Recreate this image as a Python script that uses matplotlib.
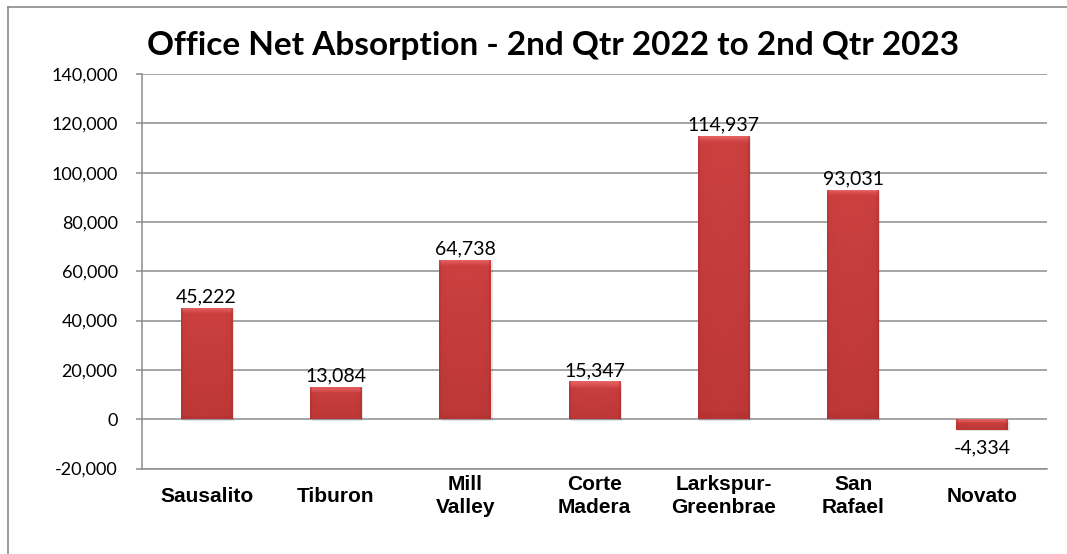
import numpy as np
import matplotlib
matplotlib.use("Agg")
import matplotlib.pyplot as plt
from matplotlib.colors import LinearSegmentedColormap
from matplotlib.ticker import FuncFormatter, MultipleLocator
from matplotlib.lines import Line2D

# ---- data ----
categories = ["Sausalito", "Tiburon", "Mill\nValley", "Corte\nMadera",
              "Larkspur-\nGreenbrae", "San\nRafael", "Novato"]
values = [45222, 13084, 64738, 15347, 114937, 93031, -4334]
title = "Office Net Absorption - 2nd Qtr 2022 to 2nd Qtr 2023"
y_min, y_max, y_step = -20000, 140000, 20000

W, H = 1067, 554
fig = plt.figure(figsize=(W / 100, H / 100), dpi=100)
fig.patch.set_facecolor("white")

# outer chart border (only left/top visible in reference)
fig.add_artist(Line2D([8 / W, 8 / W], [0, 1 - 7 / H], transform=fig.transFigure,
                      color="#8a8a8a", lw=1.2))
fig.add_artist(Line2D([8 / W, 1], [1 - 7 / H, 1 - 7 / H], transform=fig.transFigure,
                      color="#8a8a8a", lw=1.2))

left, right = 142 / W, 1047 / W
top, bottom = 1 - 74 / H, 1 - 468.5 / H
ax = fig.add_axes([left, bottom, right - left, top - bottom])

x = np.arange(len(categories))
bars = ax.bar(x, values, width=0.4, color="#c83a3a", edgecolor="none", zorder=3)

ax.set_xlim(-0.5, len(categories) - 0.5)
ax.set_ylim(y_min, y_max)
ax.yaxis.set_major_locator(MultipleLocator(y_step))
ax.yaxis.set_major_formatter(FuncFormatter(lambda v, p: f"{int(v):,}"))

# gradient fill for bars
cmap = LinearSegmentedColormap.from_list("bar", ["#9a2828", "#b73434", "#d04242", "#e86a6a"])
for b, v in zip(bars, values):
    bx, by, bw, bh = b.get_x(), b.get_y(), b.get_width(), b.get_height()
    y0, y1 = (by, by + bh) if bh >= 0 else (by + bh, by)
    # shadow
    ax.add_patch(plt.Rectangle((bx + 0.012, y0 - 600), bw, y1 - y0,
                               facecolor="#000000", alpha=0.10, edgecolor="none", zorder=2))
    n = 80
    grad_v = np.linspace(0.42, 0.62, n)[:, None]
    horiz = 1 - 0.12 * np.abs(np.linspace(-1, 1, n))[None, :] ** 4
    img = grad_v * horiz * np.ones((n, n))
    # bevel: lighter top edge, darker sides/bottom
    px_h = max(2, int(round(n * 6 / max(abs(bh) / 20000 * 49.3, 1))))
    px_h = min(px_h, n // 3)
    img[-px_h:, :] = np.linspace(0.72, 0.95, px_h)[:, None]
    img[:, :3] *= 0.75
    img[:, -3:] *= 0.75
    img[:2, :] *= 0.8
    im = ax.imshow(img, extent=[bx, bx + bw, y0, y1], origin="lower",
                   cmap=cmap, vmin=0, vmax=1, aspect="auto", zorder=3.5,
                   interpolation="bilinear")
    im.set_clip_path(b)

# data labels
for xi, v in zip(x, values):
    if v >= 0:
        ax.annotate(f"{v:,}", (xi, v), xytext=(0, 1.5), textcoords="offset points",
                    ha="center", va="bottom", fontsize=14, family="Lato",
                    color="#000000", zorder=5)
    else:
        ax.annotate(f"{v:,}", (xi, v), xytext=(0, -7), textcoords="offset points",
                    ha="center", va="top", fontsize=14, family="Lato",
                    color="#000000", zorder=5)

# grid & spines
ax.grid(axis="y", color="#8c8c8c", lw=1.1, zorder=1)
ax.set_axisbelow(True)
for s in ["top", "right"]:
    ax.spines[s].set_visible(False)
ax.spines["left"].set_color("#8c8c8c")
ax.spines["bottom"].set_color("#8c8c8c")
ax.spines["left"].set_linewidth(1.1)
ax.spines["bottom"].set_linewidth(1.1)
ax.tick_params(axis="y", length=4.5, width=1.1, color="#8c8c8c", pad=13,
               labelsize=13)
for lab in ax.get_yticklabels():
    lab.set_family("Lato")
ax.set_xticks(x)
ax.set_xticklabels([])
ax.tick_params(axis="x", length=0)

for xi, c in zip(x, categories):
    ax.annotate(c, (xi, 0), xycoords=("data", "axes fraction"),
                xytext=(0, -20), textcoords="offset points",
                ha="center", va="center", fontsize=15, fontweight="bold",
                family="Liberation Sans", linespacing=1.25, annotation_clip=False)

fig.text(553 / W, 1 - 45 / H, title, ha="center", va="center",
         fontsize=24, fontweight="bold", family="Lato")

fig.savefig("out.png", dpi=100, facecolor="white")
